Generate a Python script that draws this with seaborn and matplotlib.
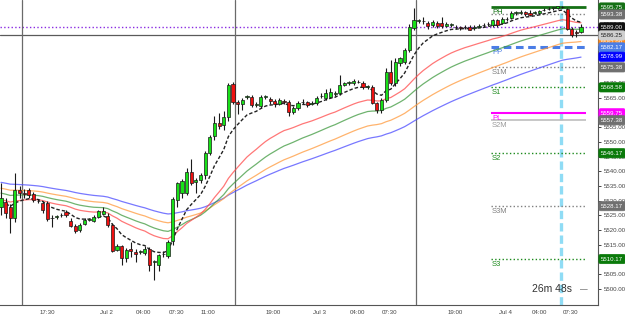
import matplotlib
matplotlib.use("Agg")
import matplotlib.pyplot as plt
import matplotlib.transforms as mtransforms
import numpy as np
import pandas as pd
import seaborn as sns

# 30-minute candles
opens = [5528, 5529.5, 5528, 5524.25, 5533.75, 5532.5, 5533.5, 5532.25, 5530, 5529.25,
         5529.25, 5524, 5524.5, 5525, 5526.25, 5523.25, 5521.5, 5520, 5522.25, 5523.5,
         5523, 5524.5, 5525.5, 5524.75, 5521.75, 5513.25, 5514.5, 5510.5, 5513.5, 5512.5,
         5512.5, 5512.25, 5513.5, 5509.25, 5508.25, 5511.75, 5511.25, 5516.25, 5530.25, 5532.5,
         5532.75, 5539.75, 5536.5, 5537, 5538.75, 5546.25, 5552, 5556.5, 5555.75, 5558.5,
         5569.75, 5563.5, 5563, 5565.25, 5565.25, 5562.5, 5562.25, 5565.25, 5564.5, 5564,
         5563, 5564, 5563.5, 5560.25, 5561.5, 5563.5, 5563.5, 5563, 5563.25, 5565.5,
         5565, 5565.25, 5566.25, 5566.75, 5569.5, 5570, 5570, 5570.5, 5570, 5568.75,
         5568.75, 5563.25, 5561, 5564.25, 5573.75, 5570, 5577, 5577.25, 5581.25, 5588.75,
         5591.25, 5591.25, 5590.5, 5589.75, 5590.5, 5590.5, 5589.5, 5589.75, 5589.25, 5589,
         5589, 5589, 5588.75, 5589.25, 5589.75, 5590, 5589.75, 5591.5, 5590.5, 5591.75,
         5592.25, 5594, 5594, 5594.25, 5594, 5594, 5594, 5594.75, 5595.25, 5595.5,
         5595.5, 5596, 5595.25, 5588.5, 5587.25, 5587.5]
highs = [5536, 5531, 5529, 5539.5, 5535, 5534, 5534.5, 5533, 5530.5, 5530,
         5530, 5525, 5525.25, 5526, 5526.75, 5524, 5522, 5522.5, 5524, 5524,
         5525, 5527, 5528, 5526, 5522.5, 5515.25, 5515, 5514, 5516, 5513.5,
         5513.25, 5514.5, 5514.25, 5510, 5512, 5513, 5516.5, 5531.25, 5536.5, 5537.5,
         5541, 5544.25, 5537.75, 5539.5, 5547, 5552.5, 5559, 5560, 5560.5, 5570,
         5570.25, 5564.25, 5565, 5566, 5566, 5563.5, 5566, 5566, 5565.25, 5564.5,
         5565, 5564.5, 5564.25, 5562.25, 5564, 5564.5, 5564, 5564, 5565.5, 5566.5,
         5568, 5568.5, 5567.5, 5572.75, 5570.5, 5570.75, 5571.5, 5571, 5570.75, 5569.5,
         5569.5, 5563.75, 5565, 5575, 5578, 5578.5, 5579, 5582, 5590, 5595.5,
         5592, 5592.5, 5591.25, 5591.5, 5591, 5592.5, 5590.75, 5590.5, 5589.75, 5589.5,
         5589.75, 5589.75, 5589.75, 5590.25, 5590.5, 5590.75, 5592, 5592, 5592.5, 5592.5,
         5594.5, 5594.5, 5594.75, 5594.5, 5594.75, 5594.5, 5595, 5595.5, 5595.75, 5596,
         5596.25, 5596.25, 5595.5, 5589, 5588, 5590]
lows = [5525, 5524, 5519, 5522.75, 5531, 5531, 5531, 5529.5, 5529.25, 5526,
        5523, 5521, 5523.75, 5524.5, 5524.5, 5521, 5519, 5519.5, 5521.75, 5523,
        5522.75, 5524, 5525, 5521, 5512.5, 5512.75, 5508, 5509, 5511, 5509,
        5511.75, 5511.5, 5506, 5503, 5506, 5511, 5510.5, 5515, 5528, 5531,
        5532, 5535.25, 5532.5, 5536, 5537.5, 5545.5, 5550.5, 5554.5, 5554, 5557,
        5563, 5559.5, 5561, 5564.5, 5562, 5562, 5561.5, 5564.5, 5563, 5562,
        5562.5, 5563, 5559, 5559.5, 5561, 5563, 5562, 5562.5, 5562.5, 5565,
        5564.25, 5565, 5565.5, 5566, 5569, 5569.5, 5569.5, 5570, 5568, 5568,
        5563, 5560, 5560, 5563.5, 5569.5, 5569, 5576, 5576.5, 5580.5, 5588,
        5590.5, 5590, 5588.5, 5589.25, 5588.75, 5588.75, 5589, 5589.25, 5588.5, 5588,
        5588.5, 5588, 5588.25, 5589, 5589, 5589.5, 5589.25, 5589.25, 5590, 5591.25,
        5591.75, 5593.25, 5593.5, 5593, 5593, 5593.5, 5593.5, 5594.5, 5594.75, 5595,
        5595.25, 5595.5, 5588, 5585.75, 5585.75, 5587]
closes = [5531, 5525.75, 5524.25, 5533.75, 5532.5, 5532.25, 5532, 5530.25, 5529.75, 5527,
          5523.75, 5524.25, 5524.75, 5525.25, 5525.25, 5521.5, 5519.75, 5521.75, 5523.5, 5523.75,
          5524.5, 5526.5, 5526.5, 5521.75, 5513, 5514.5, 5510.5, 5513.25, 5513, 5512,
          5512.75, 5513.5, 5508.25, 5509.5, 5511.5, 5512, 5516, 5530.5, 5536, 5536.75,
          5539.75, 5536, 5537, 5538.75, 5546.25, 5551.75, 5556.5, 5555.5, 5558.5, 5569.5,
          5563.5, 5563, 5564.25, 5565.5, 5562.5, 5562.75, 5565.25, 5565.5, 5564, 5563,
          5564.25, 5563.75, 5560.25, 5561.5, 5563.25, 5563.75, 5562.5, 5563.25, 5565, 5565.75,
          5566.75, 5567, 5566.5, 5569.5, 5570, 5570.25, 5570.75, 5570.25, 5568.75, 5569,
          5563.25, 5561, 5564.25, 5573.75, 5570, 5577.25, 5578.5, 5581.25, 5589, 5591.5,
          5591.25, 5591, 5589.5, 5590.75, 5589.5, 5589.5, 5590, 5590, 5589, 5588.75,
          5589, 5588.25, 5589, 5589.5, 5589.75, 5590.25, 5591.5, 5589.75, 5591.75, 5592,
          5594, 5594, 5594.25, 5593.5, 5593.25, 5594, 5594.5, 5595, 5595.25, 5595.75,
          5596.25, 5595.75, 5588.5, 5586.5, 5587, 5589]

# moving averages: period, value at first bar, colour
ma_periods = [72, 52, 36, 25, 9]
ma_seeds = [5536.4, 5534.4, 5532.7, 5530.3, 5529.6]
ma_colors = ["#4b4bff", "#ff9a3c", "#3f9a3f", "#ff4a4a", "#222222"]

# pivot levels
level_names = ["PH", "R1M", "PP", "S1M", "S1", "PL", "S2M", "S2", "S3M", "S3"]
level_values = [5595.75, 5593.38, 5582.17, 5575.38, 5568.58, 5559.75, 5557.38, 5546.17, 5528.17, 5510.17]
level_colors = ["#157015", "#808080", "#4a7de6", "#808080", "#1d8a1d", "#ff00ff", "#bdbdbd", "#1d8a1d", "#808080", "#1d8a1d"]
level_styles = ["-", ":", (0, (2.5, 1.5)), ":", ":", "-", "-", ":", ":", ":"]
level_widths = [2.0, 1.0, 2.2, 1.0, 1.0, 1.5, 1.2, 1.0, 1.0, 1.0]

last_price = 5589.00
cross_price = 5586.25

tick_pos = [9.9, 22.8, 30.8, 37.9, 44.6, 58.6, 68.6, 76.9, 83.8, 97.8, 108.8, 116.0, 122.8]
tick_labels = ["17:30", "Jul 2", "04:00", "07:30", "11:00", "19:00", "Jul 3", "04:00", "07:30",
               "19:00", "Jul 4", "04:00", "07:30"]
minor_pos = [16.8, 66.0, 104.7]
session_breaks = [4.5, 50.5, 89.5]
now_bar = 120.7

sns.set_style("white")
plt.rcParams["font.family"] = ["Liberation Sans", "DejaVu Sans"]

fig = plt.figure(figsize=(6.25, 3.16), dpi=100)
ax = fig.add_axes([0, 11.5 / 316, 598 / 625, 304.5 / 316])

idx = np.arange(len(closes))
o = np.array(opens); h = np.array(highs); l = np.array(lows); c = np.array(closes)

# moving averages seeded with their value at the left edge
for p, seed, col in zip(ma_periods, ma_seeds, ma_colors):
    s = pd.Series([seed] + closes).ewm(span=p, adjust=False).mean().values[1:]
    if col == "#222222":
        sns.lineplot(x=idx, y=s, ax=ax, color=col, linewidth=1.0, linestyle=(0, (2.5, 1.5)), zorder=2)
    else:
        sns.lineplot(x=idx, y=s, ax=ax, color=col, linewidth=0.9, alpha=0.75, zorder=2)

# pivot lines
x0, x1 = 105.5, 126.0
for name, v, col, ls, lw in zip(level_names, level_values, level_colors, level_styles, level_widths):
    ax.hlines(v, x0, x1, colors=col, linestyles=ls, linewidth=lw, zorder=1.5)
    if name != "R1M":
        tc = col if name != "S2M" else "#9a9a9a"
        ax.text(x0 + 0.3, v - 0.6, name, color=tc, fontsize=5.5, va="top", ha="left", zorder=1.6)

ax.axhline(last_price, color="#8a2be2", linestyle=":", linewidth=1.0, zorder=1.4)
ax.axhline(cross_price, color="#5a5a5a", linewidth=0.9, zorder=1.4)
for b in session_breaks:
    ax.axvline(b, color="#6a6a6a", linewidth=0.9, zorder=1.4)
ax.axvline(now_bar, color="#8fdcf5", linewidth=2.4, linestyle=(0, (2.5, 1.2)), zorder=1.3)

# candles
up = c >= o
ax.vlines(idx, l, h, color="#1a1a1a", linewidth=0.8, zorder=3)
body = np.maximum(np.abs(c - o), 0.12)
ax.bar(idx, body, bottom=np.minimum(o, c), width=0.68,
       color=np.where(up, "#18e018", "#ee1010"), edgecolor="#1a1a1a", linewidth=0.5, zorder=4)

ax.set_xlim(-0.215, 128.66)
ax.set_ylim(5494.7, 5598.3)

ax.set_xticks(tick_pos)
ax.set_xticklabels(tick_labels)
ax.set_xticks(minor_pos, minor=True)
ax.yaxis.tick_right()
ax.set_yticks(np.arange(5500, 5600, 5))
ax.set_yticklabels([f"{v:.2f}" for v in np.arange(5500, 5600, 5)])
ax.tick_params(axis="both", which="both", labelsize=4.4, colors="#444444", length=2.5, width=0.7, pad=1.5)
for side in ("left", "top"):
    ax.spines[side].set_visible(False)
for side in ("right", "bottom"):
    ax.spines[side].set_color("#555555")
    ax.spines[side].set_linewidth(0.8)

# price tags on the right edge
tr = mtransforms.blended_transform_factory(ax.transAxes, ax.transData)
tags = [
    (5583.9, "5583.90", "#ff8c1a", "white"),
    (5595.75, "5595.75", "#157015", "white"),
    (5593.38, "5593.38", "#707070", "white"),
    (5589.00, "5589.00", "#111111", "white"),
    (5586.25, "5586.25", "#cfcfcf", "#222222"),
    (5582.17, "5582.17", "#4a7de6", "white"),
    (5578.99, "5578.99", "#0000ff", "white"),
    (5575.38, "5575.38", "#707070", "white"),
    (5568.58, "5568.58", "#0a7a0a", "white"),
    (5559.75, "5559.75", "#ff00ff", "white"),
    (5557.38, "5557.38", "#707070", "white"),
    (5546.17, "5546.17", "#0a7a0a", "white"),
    (5528.17, "5528.17", "#707070", "white"),
    (5510.17, "5510.17", "#0a7a0a", "white"),
]
for v, txt, bg, fg in tags:
    ax.text(1.005, v, txt, transform=tr, fontsize=4.4, color=fg, va="center", ha="left",
            clip_on=False, zorder=6,
            bbox=dict(boxstyle="round,pad=0.35,rounding_size=0.3", fc=bg, ec=bg, lw=0.5))

ax.text(532 / 598, 0.05, "26m 48s", transform=ax.transAxes, fontsize=7.5, color="#333333",
        va="center", ha="left", zorder=7)
ax.text(580 / 598, 0.05, "—", transform=ax.transAxes, fontsize=5.5, color="#333333",
        va="center", ha="left", zorder=7)

fig.savefig("out.png", dpi=100)
